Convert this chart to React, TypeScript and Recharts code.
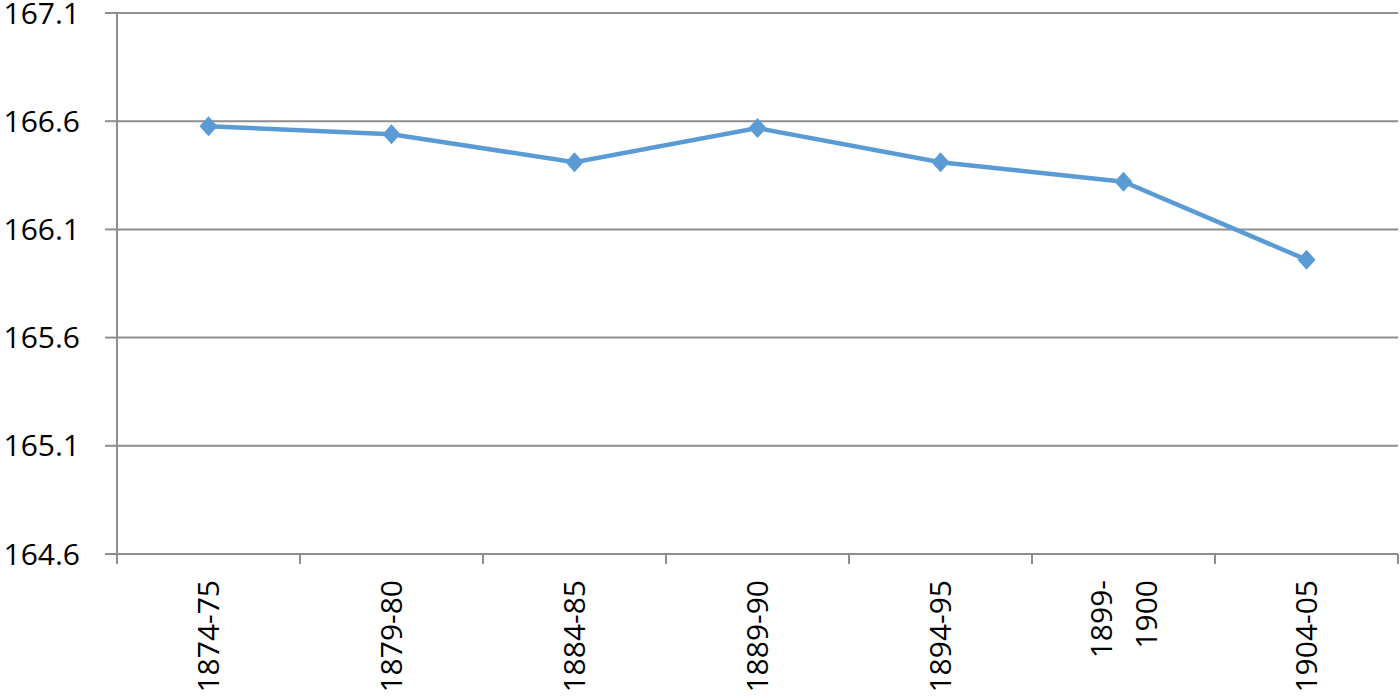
import React from 'react';
import { LineChart, Line, XAxis, YAxis, CartesianGrid } from 'recharts';

const periods = ['1874-75', '1879-80', '1884-85', '1889-90', '1894-95', '1899-1900', '1904-05'];
const heights = [166.577, 166.54, 166.41, 166.568, 166.41, 166.32, 165.96];
const yTicks = [164.6, 165.1, 165.6, 166.1, 166.6, 167.1];

const data = periods.map((period, i) => ({ period, height: heights[i] }));

const WIDTH = 1400;
const HEIGHT = 700;
const MARGIN = { top: 13, right: 2, bottom: 0, left: 0 };
const Y_AXIS_WIDTH = 117;
const X_AXIS_HEIGHT = 146;
const FONT = '"Open Sans", "Liberation Sans", sans-serif';
const FONT_SIZE = 30;
const AXIS_COLOR = '#8e8e8e';
const LINE_COLOR = '#5b9bd5';

// width of one category band, used for the boundary tick marks
const band = (WIDTH - MARGIN.left - MARGIN.right - Y_AXIS_WIDTH) / periods.length;

const splitLabel = (label: string): string[] => {
  if (label.length <= 7) return [label];
  const cut = label.indexOf('-') + 1;
  return [label.slice(0, cut), label.slice(cut)];
};

const PeriodTick = (props: any) => {
  const { x, y, payload, index } = props;
  const lines = splitLabel(String(payload.value));
  const lh = 1.5;
  const first = 0.35 - ((lines.length - 1) / 2) * lh;
  return (
    <g>
      <line x1={x - band / 2} y1={y} x2={x - band / 2} y2={y + 10} stroke={AXIS_COLOR} strokeWidth={2} />
      {index === periods.length - 1 && (
        <line x1={x + band / 2} y1={y} x2={x + band / 2} y2={y + 10} stroke={AXIS_COLOR} strokeWidth={2} />
      )}
      <g transform={`translate(${x},${y + 26})`}>
        <text
          transform="rotate(-90)"
          textAnchor="end"
          fontFamily={FONT}
          fontSize={FONT_SIZE}
          fill="#000"
        >
          {lines.map((ln, i) => (
            <tspan key={i} x={0} dy={`${i === 0 ? first : lh}em`}>
              {ln}
            </tspan>
          ))}
        </text>
      </g>
    </g>
  );
};

const Diamond = (props: any) => {
  const { cx, cy } = props;
  if (cx == null || cy == null) return null;
  return (
    <polygon
      points={`${cx},${cy - 10} ${cx + 9},${cy} ${cx},${cy + 10} ${cx - 9},${cy}`}
      fill={LINE_COLOR}
    />
  );
};

export default function App() {
  return (
    <div style={{ position: 'absolute', left: 0, top: 0, background: '#fff' }}>
      <LineChart width={WIDTH} height={HEIGHT} data={data} margin={MARGIN}>
        <CartesianGrid vertical={false} stroke={AXIS_COLOR} strokeWidth={2} />
        <XAxis
          dataKey="period"
          scale="band"
          height={X_AXIS_HEIGHT}
          interval={0}
          tickLine={false}
          tickSize={0}
          tickMargin={0}
          axisLine={{ stroke: AXIS_COLOR, strokeWidth: 2 }}
          tick={<PeriodTick />}
        />
        <YAxis
          width={Y_AXIS_WIDTH}
          domain={[164.6, 167.1]}
          ticks={yTicks}
          interval={0}
          allowDataOverflow
          tickSize={12}
          tickMargin={25}
          tickFormatter={(v: number) => v.toFixed(1)}
          axisLine={{ stroke: AXIS_COLOR, strokeWidth: 2 }}
          tickLine={{ stroke: AXIS_COLOR, strokeWidth: 2 }}
          tick={{ fontSize: FONT_SIZE, fill: '#000', fontFamily: FONT }}
        />
        <Line
          type="linear"
          dataKey="height"
          stroke={LINE_COLOR}
          strokeWidth={4.5}
          dot={<Diamond />}
          activeDot={false}
          isAnimationActive={false}
        />
      </LineChart>
    </div>
  );
}
